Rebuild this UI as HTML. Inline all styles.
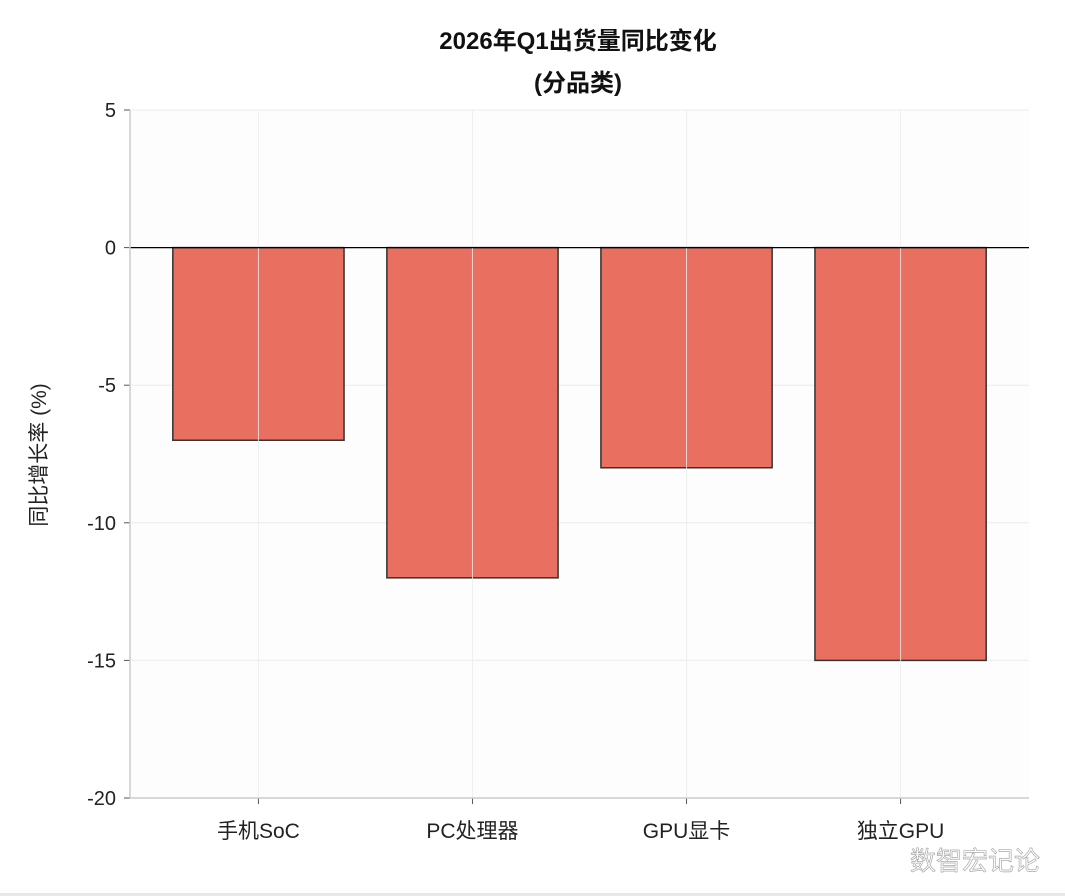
<!DOCTYPE html>
<html><head><meta charset="utf-8"><style>
body{margin:0;background:#fff;width:1065px;height:896px;overflow:hidden;font-family:"Liberation Sans","Noto Sans CJK SC",sans-serif}
</style></head><body>
<svg id="c" width="1065" height="896" style="position:absolute;left:0;top:0"></svg>
<div style="position:absolute;left:0;top:893px;width:1065px;height:3px;background:#e8e8e8"></div>
<script>
const categories=["手机SoC","PC处理器","GPU显卡","独立GPU"];
const values=[-7,-12,-8,-15];
const yTicks=[5,0,-5,-10,-15,-20];
const NS="http://www.w3.org/2000/svg";
const svg=document.getElementById('c');
const L=130,R=1029,T=110,B=798,yMin=-20,yMax=5;
const y=v=>T+(yMax-v)/(yMax-yMin)*(B-T);
const step=(R-L)/(categories.length-1+1.2);
const x=i=>L+step*0.6+i*step;
function mk(t,a,txt){const e=document.createElementNS(NS,t);for(const k in a)e.setAttribute(k,a[k]);if(txt!==undefined)e.textContent=txt;svg.appendChild(e);return e;}
let e;
e=mk('rect',{x:L,y:T,width:R-L,height:B-T,fill:'#fdfdfd'});


yTicks.forEach(v=>{
e=mk('line',{x1:L,x2:R,y1:y(v),y2:y(v),stroke:'#ececec','stroke-width':1});


e=mk('line',{x1:L-6,x2:L,y1:y(v),y2:y(v),stroke:'#555','stroke-width':1});


e=mk('text',{x:L-14,y:y(v)+7,'text-anchor':'end','font-size':20,fill:'#222'},String(v));


});
categories.forEach((c,i)=>{
e=mk('rect',{x:x(i)-step*0.4,y:y(0),width:step*0.8,height:y(values[i])-y(0),fill:'#e96f61',stroke:'#333','stroke-width':1.5});


e=mk('line',{x1:x(i),x2:x(i),y1:T,y2:B,stroke:'#ececec','stroke-width':1,opacity:0.8});


e=mk('line',{x1:x(i),x2:x(i),y1:B,y2:B+6,stroke:'#555','stroke-width':1});


e=mk('text',{x:x(i),y:B+40,'text-anchor':'middle','font-size':21,fill:'#222'},c);


});
e=mk('line',{x1:L,x2:R,y1:y(0),y2:y(0),stroke:'#000','stroke-width':1.3});


e=mk('line',{x1:L,x2:L,y1:T,y2:B,stroke:'#ccc','stroke-width':1.5});


e=mk('line',{x1:L,x2:R,y1:B,y2:B,stroke:'#ccc','stroke-width':1.5});


e=mk('text',{x:0,y:0,transform:'translate(46,455) rotate(-90)','text-anchor':'middle','font-size':21,fill:'#222'},'同比增长率 (%)');


e=mk('text',{x:578,y:49,'text-anchor':'middle','font-size':24,'font-weight':'bold',fill:'#111'},'2026年Q1出货量同比变化');


e=mk('text',{x:578,y:91,'text-anchor':'middle','font-size':24,'font-weight':'bold',fill:'#111'},'(分品类)');


e=mk('text',{x:975,y:870,'text-anchor':'middle','font-size':26,fill:'#fff',stroke:'#aaa','stroke-width':0.7},'数智宏记论');


</script>
</body></html>
